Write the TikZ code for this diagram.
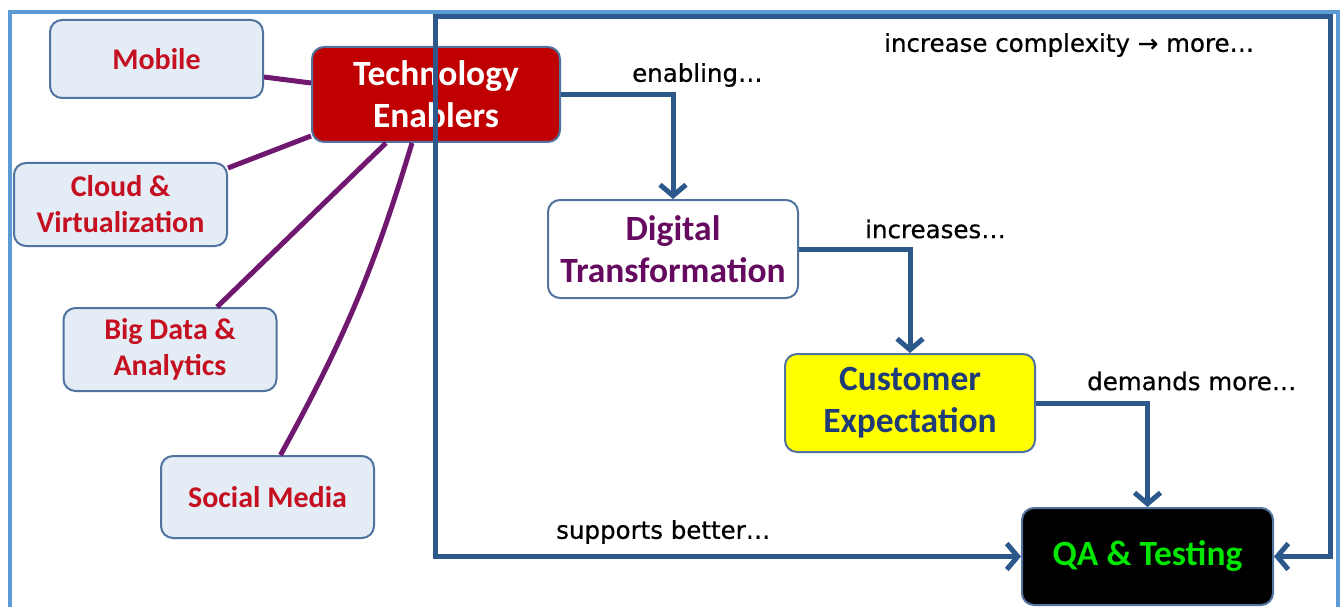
\documentclass[tikz,border=0pt]{standalone}
\usepackage{fontspec}
\setmainfont{Carlito}
\newfontfamily\lblfont[FakeBold=0.6]{DejaVu Sans}
\usetikzlibrary{arrows.meta,calc}
\definecolor{frameblue}{RGB}{91,155,213}
\definecolor{darkblue}{RGB}{44,88,140}
\definecolor{satfill}{RGB}{228,236,246}
\definecolor{satborder}{RGB}{80,115,160}
\definecolor{satred}{RGB}{196,16,32}
\definecolor{techred}{RGB}{192,0,0}
\definecolor{linkpurple}{RGB}{112,24,112}
\definecolor{dtpurple}{RGB}{102,10,96}
\definecolor{cetext}{RGB}{32,60,120}
\definecolor{qagreen}{RGB}{0,230,0}
\definecolor{ceyellow}{RGB}{255,255,0}
\begin{document}
\begin{tikzpicture}[x=1pt,y=-1pt,
  box/.style={draw, rounded corners=12pt, line width=2pt, align=center, inner sep=0pt},
  sat/.style={box, fill=satfill, draw=satborder, text=satred, minimum width=213pt,
    font=\fontsize{30}{36}\selectfont\bfseries},
  mainbox/.style={box, draw=satborder, minimum width=250pt, minimum height=98pt,
    font=\fontsize{35.5}{42}\selectfont\bfseries},
  link/.style={draw=linkpurple, line width=5pt},
  flow/.style={draw=darkblue, line width=5pt, -{Straight Barb[length=11pt,width=26pt]}},
  lbl/.style={anchor=west, inner sep=0pt, font=\lblfont\fontsize{24.5}{28}\selectfont}
]
\useasboundingbox (0,0) rectangle (1344,607);
% outer light frame
\draw[frameblue, line width=3.5pt] (10,607) -- (10,12) -- (1338,12) -- (1338,607);

% nodes
\node[sat, minimum height=78pt] (mob) at (156.5,59) {Mobile};
\node[sat, minimum height=83pt] (cloud) at (120.5,204.5) {Cloud \&\\Virtualization};
\node[sat, minimum height=83pt] (big) at (170,349.5) {Big Data \&\\Analytics};
\node[sat, minimum height=82pt] (soc) at (267.5,497) {Social Media};

\node[mainbox, fill=techred, text=white, minimum width=248pt, minimum height=95pt] (tech) at (436,94.5) {Technology\\Enablers};
\node[mainbox, fill=white, text=dtpurple] (dt) at (673,249) {Digital\\Transformation};
\node[mainbox, fill=ceyellow, text=cetext] (ce) at (910,403) {Customer\\Expectation};
\node[mainbox, fill=black, text=qagreen, minimum width=251pt, minimum height=97pt] (qa) at (1147.5,556.5) {QA \& Testing};

% purple links
\draw[link] ([yshift=-18pt]mob.east) -- ([yshift=11.5pt]tech.west);
\draw[link] ([yshift=-6pt]cloud.north east) -- ([yshift=7pt]tech.south west);
\draw[link] ([xshift=47pt]big.north) -- ([xshift=-50pt]tech.south);
\draw[link] ([xshift=13pt]soc.north) to[bend right=6] ([xshift=-24pt]tech.south);

% flow arrows
\coordinate (ftl) at (435,17);
\coordinate (ftr) at (1330,17);
\draw[flow] (tech.east) -| (dt.north);
\draw[flow] (dt.east) -| (ce.north);
\draw[flow] (ce.east) -| (qa.north);
\draw[flow, {Straight Barb[length=11pt,width=26pt]}-{Straight Barb[length=11pt,width=26pt]}] (qa.west) -| (ftl) -- (ftr) |- (qa.east);

% labels
\node[lbl] (l1) at (632,75) {enabling…};
\node[lbl] (l2) at (884,45) {increase complexity → more…};
\node[lbl] (l3) at (865,229) {increases…};
\node[lbl] (l4) at (1087,381) {demands more…};
\node[lbl] (l5) at (556,532) {supports better…};
\end{tikzpicture}
\end{document}
